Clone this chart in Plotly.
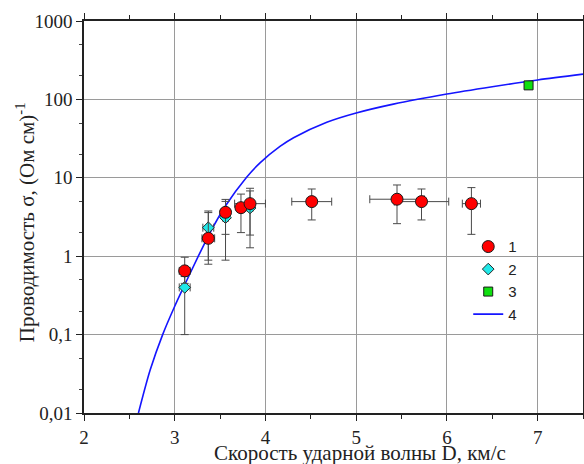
import plotly.graph_objects as go

# Series 1 (red circles)
s1_x = [3.11, 3.37, 3.56, 3.73, 3.83, 4.51, 5.45, 5.72, 6.27]
s1_y = [0.65, 1.69, 3.63, 4.16, 4.68, 4.97, 5.33, 4.97, 4.68]
s1_hi = [0.97, 3.60, 5.0, 6.2, 7.35, 7.2, 8.1, 7.2, 7.5]
s1_lo = [0.45, 0.79, 1.9, 2.0, 1.86, 2.9, 2.6, 2.9, 1.9]
s1_dx = [0.06, 0.07, 0.04, 0.04, 0.17, 0.22, 0.30, 0.30, 0.10]

# Series 2 (cyan diamonds)
s2_x = [3.11, 3.37, 3.56, 3.83]
s2_y = [0.40, 2.31, 3.10, 4.12]
s2_hi = [0.55, 3.77, 5.3, 6.8]
s2_lo = [0.10, 0.89, 0.89, 1.28]
s2_dx = [0.06, 0.06, 0.03, 0.03]

# Series 3 (green square)
s3_x = [6.9]
s3_y = [151]

# Curve 4 (blue line)
c4_x = [2.60, 2.73, 2.867, 3.0, 3.105, 3.26, 3.39, 3.555, 3.79, 3.94, 4.16, 4.31,
        4.676, 5.0, 5.41, 6.0, 6.5, 7.0, 7.5]
c4_y = [0.01, 0.0355, 0.1, 0.23, 0.42, 1.0, 2.0, 4.3, 10.1, 15.5, 25.1, 32.4,
        51, 67, 87, 117, 145, 177, 210]

x_ticks = [2, 3, 4, 5, 6, 7]
y_ticks = [0.01, 0.1, 1, 10, 100, 1000]
y_ticktext = ["0,01", "0,1", "1", "10", "100", "1000"]

legend_names = ["1", "2", "3", "4"]
x_title = "Скорость ударной волны D, км/с"
y_title = "Проводимость σ, (Ом см)<sup>-1</sup>"

err_col = "#4a4a4a"
serif = "Liberation Serif, Times New Roman, Times, serif"

fig = go.Figure()

fig.add_trace(go.Scatter(
    x=c4_x, y=c4_y, mode="lines", name=legend_names[3], legendrank=4,
    line=dict(color="#1515ff", width=1.6, shape="spline", smoothing=0.8),
))

fig.add_trace(go.Scatter(
    x=s2_x, y=s2_y, mode="markers", name=legend_names[1], legendrank=2,
    marker=dict(symbol="diamond", size=9, color="#20e8e8",
                line=dict(color="#2a2a2a", width=1)),
    error_y=dict(type="data", symmetric=False,
                 array=[h - v for h, v in zip(s2_hi, s2_y)],
                 arrayminus=[v - l for l, v in zip(s2_lo, s2_y)],
                 color=err_col, thickness=1, width=4),
    error_x=dict(type="data", array=s2_dx, color=err_col, thickness=1, width=4),
))

fig.add_trace(go.Scatter(
    x=s1_x, y=s1_y, mode="markers", name=legend_names[0], legendrank=1,
    marker=dict(symbol="circle", size=12, color="#ff0000",
                line=dict(color="#1a1a1a", width=1)),
    error_y=dict(type="data", symmetric=False,
                 array=[h - v for h, v in zip(s1_hi, s1_y)],
                 arrayminus=[v - l for l, v in zip(s1_lo, s1_y)],
                 color=err_col, thickness=1, width=4),
    error_x=dict(type="data", array=s1_dx, color=err_col, thickness=1, width=4),
))

fig.add_trace(go.Scatter(
    x=s3_x, y=s3_y, mode="markers", name=legend_names[2], legendrank=3,
    marker=dict(symbol="square", size=9, color="#10e010",
                line=dict(color="#1a1a1a", width=1)),
))

fig.update_layout(
    width=584, height=464,
    margin=dict(l=84, r=1, t=21, b=51, autoexpand=False),
    paper_bgcolor="white", plot_bgcolor="white",
    font=dict(family=serif, size=19, color="#222"),
    legend=dict(
        x=0.77, y=0.466, xanchor="left", yanchor="top",
        font=dict(family="Liberation Sans, Arial, sans-serif", size=15, color="#222"),
        bgcolor="rgba(0,0,0,0)", traceorder="normal",
        tracegroupgap=0, itemwidth=30,
    ),
    xaxis=dict(
        range=[2, 7.5], tickvals=x_ticks, ticktext=[str(v) for v in x_ticks],
        showline=True, linecolor="#222", linewidth=1.5, mirror="ticks",
        ticks="outside", ticklen=6, tickcolor="#222", automargin=False,
        minor=dict(dtick=0.5, ticks="outside", ticklen=4, tickcolor="#222", showgrid=False),
        showgrid=True, gridcolor="#9a9a9a", gridwidth=1, zeroline=False,
        tickfont=dict(family=serif, size=19),
    ),
    yaxis=dict(
        type="log", range=[-2, 3], tickvals=y_ticks, ticktext=y_ticktext,
        showline=True, linecolor="#222", linewidth=1.5, mirror="ticks",
        ticks="outside", ticklen=6, tickcolor="#222", automargin=False,
        minor=dict(ticks="outside", ticklen=3, tickcolor="#444", showgrid=False),
        showgrid=True, gridcolor="#9a9a9a", gridwidth=1, zeroline=False,
        tickfont=dict(family=serif, size=19),
    ),
    annotations=[
        dict(text=x_title, xref="paper", yref="paper", x=0.553, y=-0.102,
             xanchor="center", yanchor="middle", showarrow=False,
             font=dict(family=serif, size=21, color="#222")),
        dict(text=y_title, xref="paper", yref="paper", x=-0.118, y=0.487,
             xanchor="center", yanchor="middle", showarrow=False, textangle=-90,
             font=dict(family=serif, size=21, color="#222")),
    ],
)

fig.write_html("out.html", config={"displayModeBar": False},
               post_script="document.body.style.margin='0';")
